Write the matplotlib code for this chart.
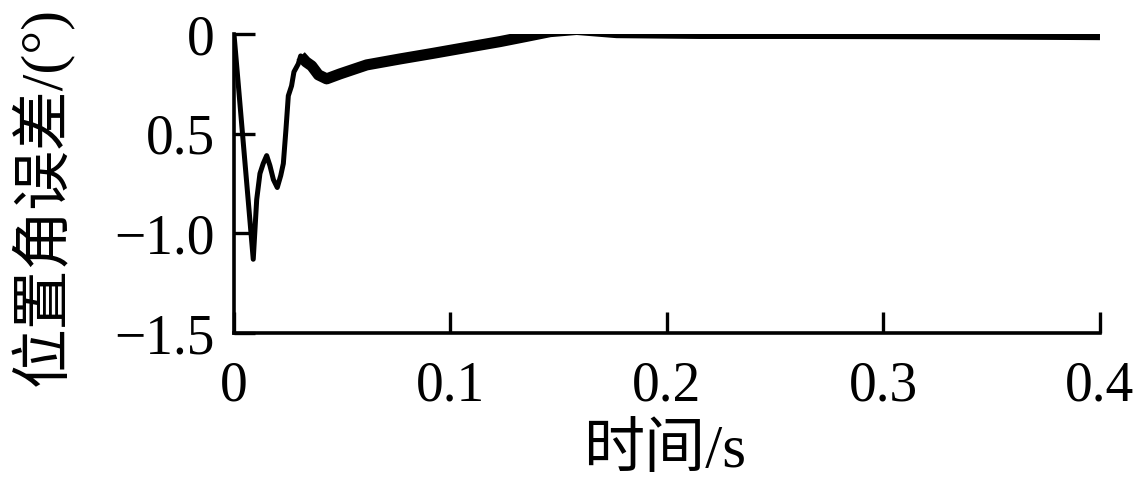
import matplotlib
matplotlib.use("Agg")
import matplotlib.pyplot as plt
import numpy as np

plt.rcParams['font.family'] = ['Liberation Serif', 'Noto Sans CJK SC', 'DejaVu Sans']

# data
time_s = [0.0, 0.0089, 0.0105, 0.0120, 0.0135, 0.0151, 0.0166, 0.0182, 0.0200,
          0.0216, 0.0228, 0.0240, 0.0251, 0.0266, 0.0277, 0.0297, 0.0308, 0.0333,
          0.0359, 0.0390, 0.0428, 0.0490, 0.0613, 0.0767, 0.0919, 0.1060, 0.1229,
          0.1350, 0.1460, 0.1583, 0.1768, 0.2150, 0.2600, 0.3000, 0.3500, 0.4000]
error_deg = [0.0, -1.13, -0.83, -0.70, -0.65, -0.61, -0.66, -0.73, -0.77,
             -0.71, -0.65, -0.48, -0.31, -0.26, -0.19, -0.15, -0.11, -0.14,
             -0.16, -0.205, -0.225, -0.20, -0.155, -0.125, -0.097, -0.07, -0.038,
             -0.012, 0.012, 0.023, 0.007, 0.003, 0.003, 0.002, 0.0, -0.003]

xticks = [0, 0.1, 0.2, 0.3, 0.4]
xtick_labels = ['0', '0.1', '0.2', '0.3', '0.4']
yticks = [-1.5, -1.0, -0.5, 0]
ytick_labels = ['\u22121.5', '\u22121.0', '0.5', '0']
xlabel = '时间/s'
ylabel = '位置角误差/(°)'

W, H = 1138, 493
fig = plt.figure(figsize=(W / 100, H / 100), dpi=100)
ax = fig.add_axes([0.2056, 0.3245, 0.7610, 0.6065])

t = np.array(time_s)
e = np.array(error_deg)
ax.plot(t, e, color='black', lw=3.6, solid_joinstyle='round')
mask = t >= 0.030
ax.plot(t[mask], e[mask], color='black', lw=8, solid_capstyle='butt')

ax.set_xlim(0, 0.4)
ax.set_ylim(-1.5, 0)
ax.set_xticks(xticks)
ax.set_xticklabels(xtick_labels)
ax.set_yticks(yticks)
ax.set_yticklabels(ytick_labels)

for s in ['top', 'right']:
    ax.spines[s].set_visible(False)
for s in ['left', 'bottom']:
    ax.spines[s].set_linewidth(2.6)
    ax.spines[s].set_color('black')

ax.tick_params(axis='both', direction='in', length=15, width=2.4, labelsize=40, colors='black')
ax.tick_params(axis='x', pad=20)
ax.tick_params(axis='y', pad=14)

fig.text(665 / W, 1 - 452 / H, xlabel, fontsize=44, ha='center', va='center')
fig.text(42 / W, 1 - 197 / H, ylabel, fontsize=43, ha='center', va='center', rotation=90)

fig.savefig('out.png', dpi=100)
